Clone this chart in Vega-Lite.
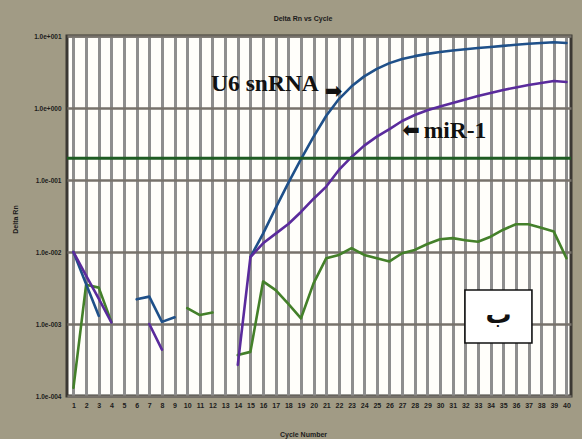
{
  "$schema": "https://vega.github.io/schema/vega-lite/v6.json",
  "width": 504,
  "height": 360,
  "autosize": {"type": "none"},
  "padding": {"left": 67, "top": 36, "right": 11, "bottom": 43},
  "background": "#a19b85",
  "title": {
    "text": "Delta Rn vs Cycle",
    "font": "Liberation Sans",
    "fontSize": 7,
    "fontWeight": "bold",
    "color": "#1c1c1c",
    "anchor": "middle",
    "dx": -16,
    "offset": 11
  },
  "config": {
    "view": {"fill": "#fffefa", "stroke": "#3b3833", "strokeWidth": 3}
  },
  "datasets": {
    "curves": [
      {"cycle": 1, "target": "NTC", "rn": 0.00013},
      {"cycle": 2, "target": "NTC", "rn": 0.0035},
      {"cycle": 3, "target": "NTC", "rn": 0.0032},
      {"cycle": 4, "target": "NTC", "rn": 0.00107},
      {"cycle": 5, "target": "NTC", "rn": null},
      {"cycle": 6, "target": "NTC", "rn": null},
      {"cycle": 7, "target": "NTC", "rn": null},
      {"cycle": 8, "target": "NTC", "rn": null},
      {"cycle": 9, "target": "NTC", "rn": null},
      {"cycle": 10, "target": "NTC", "rn": 0.00166},
      {"cycle": 11, "target": "NTC", "rn": 0.00133},
      {"cycle": 12, "target": "NTC", "rn": 0.00144},
      {"cycle": 13, "target": "NTC", "rn": null},
      {"cycle": 14, "target": "NTC", "rn": 0.00037},
      {"cycle": 15, "target": "NTC", "rn": 0.00041},
      {"cycle": 16, "target": "NTC", "rn": 0.0039},
      {"cycle": 17, "target": "NTC", "rn": 0.00295},
      {"cycle": 18, "target": "NTC", "rn": 0.0019},
      {"cycle": 19, "target": "NTC", "rn": 0.0012},
      {"cycle": 20, "target": "NTC", "rn": 0.0037},
      {"cycle": 21, "target": "NTC", "rn": 0.0082},
      {"cycle": 22, "target": "NTC", "rn": 0.0091},
      {"cycle": 23, "target": "NTC", "rn": 0.0113},
      {"cycle": 24, "target": "NTC", "rn": 0.0091},
      {"cycle": 25, "target": "NTC", "rn": 0.0082},
      {"cycle": 26, "target": "NTC", "rn": 0.0074},
      {"cycle": 27, "target": "NTC", "rn": 0.0096},
      {"cycle": 28, "target": "NTC", "rn": 0.0107},
      {"cycle": 29, "target": "NTC", "rn": 0.0129},
      {"cycle": 30, "target": "NTC", "rn": 0.015},
      {"cycle": 31, "target": "NTC", "rn": 0.0156},
      {"cycle": 32, "target": "NTC", "rn": 0.0146},
      {"cycle": 33, "target": "NTC", "rn": 0.0139},
      {"cycle": 34, "target": "NTC", "rn": 0.0163},
      {"cycle": 35, "target": "NTC", "rn": 0.0204},
      {"cycle": 36, "target": "NTC", "rn": 0.0243},
      {"cycle": 37, "target": "NTC", "rn": 0.0243},
      {"cycle": 38, "target": "NTC", "rn": 0.0217},
      {"cycle": 39, "target": "NTC", "rn": 0.0192},
      {"cycle": 40, "target": "NTC", "rn": 0.0082},

      {"cycle": 1, "target": "U6 snRNA", "rn": 0.01},
      {"cycle": 2, "target": "U6 snRNA", "rn": 0.0036},
      {"cycle": 3, "target": "U6 snRNA", "rn": 0.0013},
      {"cycle": 4, "target": "U6 snRNA", "rn": null},
      {"cycle": 5, "target": "U6 snRNA", "rn": null},
      {"cycle": 6, "target": "U6 snRNA", "rn": 0.0022},
      {"cycle": 7, "target": "U6 snRNA", "rn": 0.0024},
      {"cycle": 8, "target": "U6 snRNA", "rn": 0.00107},
      {"cycle": 9, "target": "U6 snRNA", "rn": 0.00124},
      {"cycle": 10, "target": "U6 snRNA", "rn": null},
      {"cycle": 11, "target": "U6 snRNA", "rn": null},
      {"cycle": 12, "target": "U6 snRNA", "rn": null},
      {"cycle": 13, "target": "U6 snRNA", "rn": null},
      {"cycle": 14, "target": "U6 snRNA", "rn": null},
      {"cycle": 15, "target": "U6 snRNA", "rn": 0.0085},
      {"cycle": 16, "target": "U6 snRNA", "rn": 0.018},
      {"cycle": 17, "target": "U6 snRNA", "rn": 0.041},
      {"cycle": 18, "target": "U6 snRNA", "rn": 0.091},
      {"cycle": 19, "target": "U6 snRNA", "rn": 0.195},
      {"cycle": 20, "target": "U6 snRNA", "rn": 0.4},
      {"cycle": 21, "target": "U6 snRNA", "rn": 0.78},
      {"cycle": 22, "target": "U6 snRNA", "rn": 1.33},
      {"cycle": 23, "target": "U6 snRNA", "rn": 2.0},
      {"cycle": 24, "target": "U6 snRNA", "rn": 2.75},
      {"cycle": 25, "target": "U6 snRNA", "rn": 3.5},
      {"cycle": 26, "target": "U6 snRNA", "rn": 4.2},
      {"cycle": 27, "target": "U6 snRNA", "rn": 4.8},
      {"cycle": 28, "target": "U6 snRNA", "rn": 5.25},
      {"cycle": 29, "target": "U6 snRNA", "rn": 5.65},
      {"cycle": 30, "target": "U6 snRNA", "rn": 6.0},
      {"cycle": 31, "target": "U6 snRNA", "rn": 6.3},
      {"cycle": 32, "target": "U6 snRNA", "rn": 6.55},
      {"cycle": 33, "target": "U6 snRNA", "rn": 6.8},
      {"cycle": 34, "target": "U6 snRNA", "rn": 7.05},
      {"cycle": 35, "target": "U6 snRNA", "rn": 7.3},
      {"cycle": 36, "target": "U6 snRNA", "rn": 7.55},
      {"cycle": 37, "target": "U6 snRNA", "rn": 7.8},
      {"cycle": 38, "target": "U6 snRNA", "rn": 8.0},
      {"cycle": 39, "target": "U6 snRNA", "rn": 8.2},
      {"cycle": 40, "target": "U6 snRNA", "rn": 8.0},

      {"cycle": 1, "target": "miR-1", "rn": 0.01},
      {"cycle": 2, "target": "miR-1", "rn": 0.0047},
      {"cycle": 3, "target": "miR-1", "rn": 0.00225},
      {"cycle": 4, "target": "miR-1", "rn": 0.00105},
      {"cycle": 5, "target": "miR-1", "rn": null},
      {"cycle": 6, "target": "miR-1", "rn": null},
      {"cycle": 7, "target": "miR-1", "rn": 0.001},
      {"cycle": 8, "target": "miR-1", "rn": 0.00044},
      {"cycle": 9, "target": "miR-1", "rn": null},
      {"cycle": 10, "target": "miR-1", "rn": null},
      {"cycle": 11, "target": "miR-1", "rn": null},
      {"cycle": 12, "target": "miR-1", "rn": null},
      {"cycle": 13, "target": "miR-1", "rn": null},
      {"cycle": 14, "target": "miR-1", "rn": 0.00027},
      {"cycle": 15, "target": "miR-1", "rn": 0.0085},
      {"cycle": 16, "target": "miR-1", "rn": 0.0132},
      {"cycle": 17, "target": "miR-1", "rn": 0.018},
      {"cycle": 18, "target": "miR-1", "rn": 0.0245},
      {"cycle": 19, "target": "miR-1", "rn": 0.036},
      {"cycle": 20, "target": "miR-1", "rn": 0.055},
      {"cycle": 21, "target": "miR-1", "rn": 0.081},
      {"cycle": 22, "target": "miR-1", "rn": 0.138},
      {"cycle": 23, "target": "miR-1", "rn": 0.209},
      {"cycle": 24, "target": "miR-1", "rn": 0.3},
      {"cycle": 25, "target": "miR-1", "rn": 0.4},
      {"cycle": 26, "target": "miR-1", "rn": 0.51},
      {"cycle": 27, "target": "miR-1", "rn": 0.66},
      {"cycle": 28, "target": "miR-1", "rn": 0.8},
      {"cycle": 29, "target": "miR-1", "rn": 0.93},
      {"cycle": 30, "target": "miR-1", "rn": 1.05},
      {"cycle": 31, "target": "miR-1", "rn": 1.17},
      {"cycle": 32, "target": "miR-1", "rn": 1.31},
      {"cycle": 33, "target": "miR-1", "rn": 1.47},
      {"cycle": 34, "target": "miR-1", "rn": 1.62},
      {"cycle": 35, "target": "miR-1", "rn": 1.78},
      {"cycle": 36, "target": "miR-1", "rn": 1.93},
      {"cycle": 37, "target": "miR-1", "rn": 2.09},
      {"cycle": 38, "target": "miR-1", "rn": 2.22},
      {"cycle": 39, "target": "miR-1", "rn": 2.37},
      {"cycle": 40, "target": "miR-1", "rn": 2.3}
    ],
    "threshold": [{"rn": 0.2}],
    "labels": [
      {"label": "U6 snRNA", "cycle": 16.15, "rn": 2.15},
      {"label": "miR-1", "cycle": 31.18, "rn": 0.48}
    ],
    "arrows": [
      {"label": "➡", "cycle": 21.57, "rn": 1.67},
      {"label": "⬅", "cycle": 27.7, "rn": 0.48}
    ],
    "panel": [
      {"label": "ب", "cycle": 31.97, "cycle2": 37.27, "rn": 0.00297, "rn2": 0.000545, "mid": 34.62, "mrn": 0.00133}
    ]
  },
  "encoding": {
    "x": {
      "field": "cycle",
      "type": "quantitative",
      "scale": {"domain": [0.49, 40.36], "nice": false, "zero": false},
      "axis": {
        "values": [1, 2, 3, 4, 5, 6, 7, 8, 9, 10, 11, 12, 13, 14, 15, 16, 17, 18, 19, 20, 21, 22, 23, 24, 25, 26, 27, 28, 29, 30, 31, 32, 33, 34, 35, 36, 37, 38, 39, 40],
        "grid": true,
        "gridColor": "#8e8e8e",
        "gridWidth": 3,
        "domain": false,
        "ticks": false,
        "labelFont": "Liberation Sans",
        "labelFontSize": 7,
        "labelFontWeight": "bold",
        "labelColor": "#1c1c1c",
        "labelPadding": 5,
        "labelOverlap": false,
        "labelFlush": false,
        "title": "Cycle Number",
        "titleFont": "Liberation Sans",
        "titleFontSize": 7,
        "titleFontWeight": "bold",
        "titleColor": "#1c1c1c",
        "titleX": 236,
        "titleY": 38,
        "titleBaseline": "middle"
      }
    },
    "y": {
      "field": "rn",
      "type": "quantitative",
      "scale": {"type": "log", "domain": [0.0001, 10], "nice": false},
      "axis": {
        "values": [0.0001, 0.001, 0.01, 0.1, 1, 10],
        "grid": true,
        "gridColor": "#77726b",
        "gridWidth": 2.5,
        "domain": false,
        "ticks": false,
        "labelExpr": "'1.0e' + (datum.value >= 1 ? '+' : '-') + format(abs(round(log(datum.value) / LN10)), '03d')",
        "labelFont": "Liberation Sans",
        "labelFontSize": 6.5,
        "labelFontWeight": "bold",
        "labelColor": "#1c1c1c",
        "labelPadding": 6,
        "labelOverlap": false,
        "labelFlush": false,
        "title": "Delta Rn",
        "titleFont": "Liberation Sans",
        "titleFontSize": 7,
        "titleFontWeight": "bold",
        "titleColor": "#1c1c1c",
        "titleAngle": -90,
        "titleX": -52,
        "titleY": 183,
        "titleAlign": "center",
        "titleBaseline": "middle"
      }
    }
  },
  "layer": [
    {
      "data": {"name": "curves"},
      "mark": {"type": "line", "strokeWidth": 2.6, "strokeJoin": "round", "strokeCap": "round", "invalid": "break-paths-filter-domains"},
      "encoding": {
        "color": {
          "field": "target",
          "type": "nominal",
          "scale": {"domain": ["NTC", "U6 snRNA", "miR-1"], "range": ["#44802a", "#1f5089", "#5a2b9c"]},
          "legend": null
        }
      }
    },
    {
      "data": {"name": "threshold"},
      "mark": {"type": "rule", "color": "#1e5b22", "strokeWidth": 3},
      "encoding": {
        "x": null
      }
    },
    {
      "data": {"name": "labels"},
      "mark": {"type": "text", "font": "Liberation Serif", "fontWeight": "bold", "fontSize": 23.5, "color": "#111111", "align": "center", "baseline": "middle"},
      "encoding": {
        "text": {"field": "label"}
      }
    },
    {
      "data": {"name": "arrows"},
      "mark": {"type": "text", "font": "DejaVu Sans", "fontWeight": "bold", "fontSize": 21, "color": "#111111", "align": "center", "baseline": "middle"},
      "encoding": {
        "text": {"field": "label"}
      }
    },
    {
      "data": {"name": "panel"},
      "mark": {"type": "rect", "fill": "#ffffff", "stroke": "#111111", "strokeWidth": 1.6},
      "encoding": {
        "x2": {"field": "cycle2"},
        "y2": {"field": "rn2"}
      }
    },
    {
      "data": {"name": "panel"},
      "mark": {"type": "text", "font": "DejaVu Sans", "fontWeight": "bold", "fontSize": 26, "color": "#111111", "align": "center", "baseline": "middle"},
      "encoding": {
        "x": {"field": "mid", "type": "quantitative"},
        "y": {"field": "mrn", "type": "quantitative"},
        "text": {"field": "label"}
      }
    }
  ]
}
